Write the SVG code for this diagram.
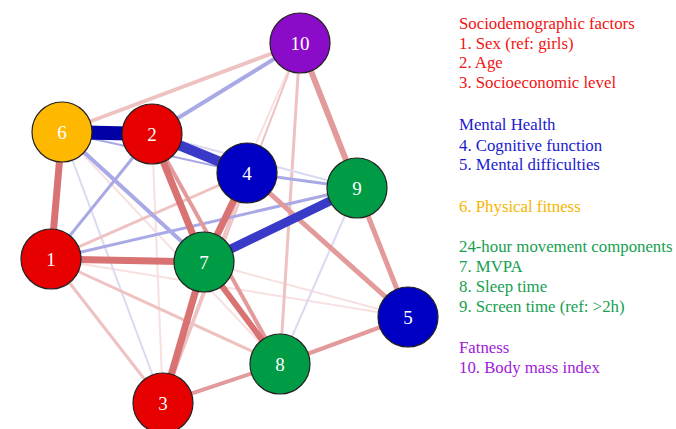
<svg xmlns="http://www.w3.org/2000/svg" width="676" height="429" viewBox="0 0 676 429">
<style>
.e{fill:none;stroke-linecap:butt}
.r{stroke:#d97272}
.r2{stroke:#e39a9a}
.r3{stroke:#efc2c2}
.r4{stroke:#f7e0e0}
.b1{stroke:#0000a6}
.b2{stroke:#3a3ac9}
.b3{stroke:#a9a9e6}
.b4{stroke:#dadaf3}
.n circle{stroke:#222;stroke-width:1.2}
.n text{font-family:"Liberation Serif","Times New Roman",serif;font-size:19px;fill:#fff;text-anchor:middle}
.lg{font-family:"Liberation Serif","Times New Roman",serif;font-size:16.8px}
</style>
<rect width="676" height="429" fill="#fff"/>
<g id="edges">
<line class="e r4" x1="51" y1="259" x2="408" y2="317" stroke-width="2"/>
<line class="e r4" x1="204" y1="262" x2="408" y2="317" stroke-width="2"/>
<line class="e r4" x1="62" y1="132" x2="280" y2="364" stroke-width="2"/>
<line class="e r4" x1="152" y1="134" x2="163" y2="403" stroke-width="2"/>
<line class="e r4" x1="300" y1="43" x2="204" y2="262" stroke-width="2"/>
<line class="e r3" x1="300" y1="43" x2="163" y2="403" stroke-width="2"/>
<line class="e r3" x1="300" y1="43" x2="280" y2="364" stroke-width="3"/>
<line class="e b4" x1="62" y1="132" x2="163" y2="403" stroke-width="2"/>
<line class="e b4" x1="357" y1="188" x2="280" y2="364" stroke-width="2"/>
<line class="e b4" x1="152" y1="134" x2="357" y2="188" stroke-width="2"/>
<line class="e b3" x1="62" y1="132" x2="247" y2="173" stroke-width="2"/>
<line class="e r3" x1="51" y1="259" x2="163" y2="403" stroke-width="3"/>
<line class="e r3" x1="51" y1="259" x2="280" y2="364" stroke-width="3"/>
<line class="e r3" x1="51" y1="259" x2="247" y2="173" stroke-width="3"/>
<line class="e r3" x1="163" y1="403" x2="247" y2="173" stroke-width="3"/>
<line class="e r3" x1="300" y1="43" x2="62" y2="132" stroke-width="4"/>
<line class="e b3" x1="300" y1="43" x2="152" y2="134" stroke-width="4"/>
<line class="e b3" x1="51" y1="259" x2="152" y2="134" stroke-width="3"/>
<line class="e b3" x1="51" y1="259" x2="357" y2="188" stroke-width="3"/>
<line class="e b3" x1="247" y1="173" x2="357" y2="188" stroke-width="3"/>
<line class="e b3" x1="62" y1="132" x2="204" y2="262" stroke-width="4"/>
<line class="e r2" x1="280" y1="364" x2="408" y2="317" stroke-width="4"/>
<line class="e r2" x1="163" y1="403" x2="280" y2="364" stroke-width="4"/>
<line class="e r2" x1="152" y1="134" x2="280" y2="364" stroke-width="4"/>
<line class="e r2" x1="247" y1="173" x2="408" y2="317" stroke-width="5"/>
<line class="e r2" x1="357" y1="188" x2="408" y2="317" stroke-width="5"/>
<line class="e r2" x1="300" y1="43" x2="357" y2="188" stroke-width="6"/>
<line class="e r" x1="204" y1="262" x2="280" y2="364" stroke-width="6"/>
<line class="e r" x1="51" y1="259" x2="204" y2="262" stroke-width="7"/>
<line class="e r" x1="62" y1="132" x2="51" y2="259" stroke-width="7"/>
<line class="e r" x1="152" y1="134" x2="204" y2="262" stroke-width="7"/>
<line class="e r" x1="247" y1="173" x2="204" y2="262" stroke-width="7"/>
<line class="e r" x1="204" y1="262" x2="163" y2="403" stroke-width="7"/>
<line class="e b2" x1="204" y1="262" x2="357" y2="188" stroke-width="9"/>
<line class="e b2" x1="152" y1="134" x2="247" y2="173" stroke-width="10"/>
<line class="e b1" x1="62" y1="132" x2="152" y2="134" stroke-width="14"/>
</g>
<g id="node10" class="n"><circle cx="300" cy="43" r="30" fill="#8b0cc8"/><text x="300" y="49.5">10</text></g>
<g id="node6" class="n"><circle cx="62" cy="132" r="30" fill="#ffb800"/><text x="62" y="138.5">6</text></g>
<g id="node2" class="n"><circle cx="152" cy="134" r="30" fill="#e60000"/><text x="152" y="140.5">2</text></g>
<g id="node4" class="n"><circle cx="247" cy="173" r="30" fill="#0000c4"/><text x="247" y="179.5">4</text></g>
<g id="node9" class="n"><circle cx="357" cy="188" r="30" fill="#009c45"/><text x="357" y="194.5">9</text></g>
<g id="node1" class="n"><circle cx="51" cy="259" r="30" fill="#e60000"/><text x="51" y="265.5">1</text></g>
<g id="node7" class="n"><circle cx="204" cy="262" r="30" fill="#009c45"/><text x="204" y="268.5">7</text></g>
<g id="node5" class="n"><circle cx="408" cy="317" r="30" fill="#0000c4"/><text x="408" y="323.5">5</text></g>
<g id="node8" class="n"><circle cx="280" cy="364" r="30" fill="#009c45"/><text x="280" y="370.5">8</text></g>
<g id="node3" class="n"><circle cx="163" cy="403" r="30" fill="#e60000"/><text x="163" y="409.5">3</text></g>
<g id="legend" class="lg">
<text x="459" y="29" fill="#f01414">Sociodemographic factors</text>
<text x="459" y="49" fill="#f01414">1. Sex (ref: girls)</text>
<text x="459" y="68" fill="#f01414">2. Age</text>
<text x="459" y="88" fill="#f01414">3. Socioeconomic level</text>
<text x="459" y="130" fill="#1a1ad0">Mental Health</text>
<text x="459" y="151" fill="#1a1ad0">4. Cognitive function</text>
<text x="459" y="170" fill="#1a1ad0">5. Mental difficulties</text>
<text x="459" y="212" fill="#f7b500">6. Physical fitness</text>
<text x="459" y="252" fill="#16a050">24-hour movement components</text>
<text x="459" y="272" fill="#16a050">7. MVPA</text>
<text x="459" y="292" fill="#16a050">8. Sleep time</text>
<text x="459" y="312" fill="#16a050">9. Screen time (ref: &gt;2h)</text>
<text x="459" y="353" fill="#a020d8">Fatness</text>
<text x="459" y="373" fill="#a020d8">10. Body mass index</text>
</g>
</svg>
